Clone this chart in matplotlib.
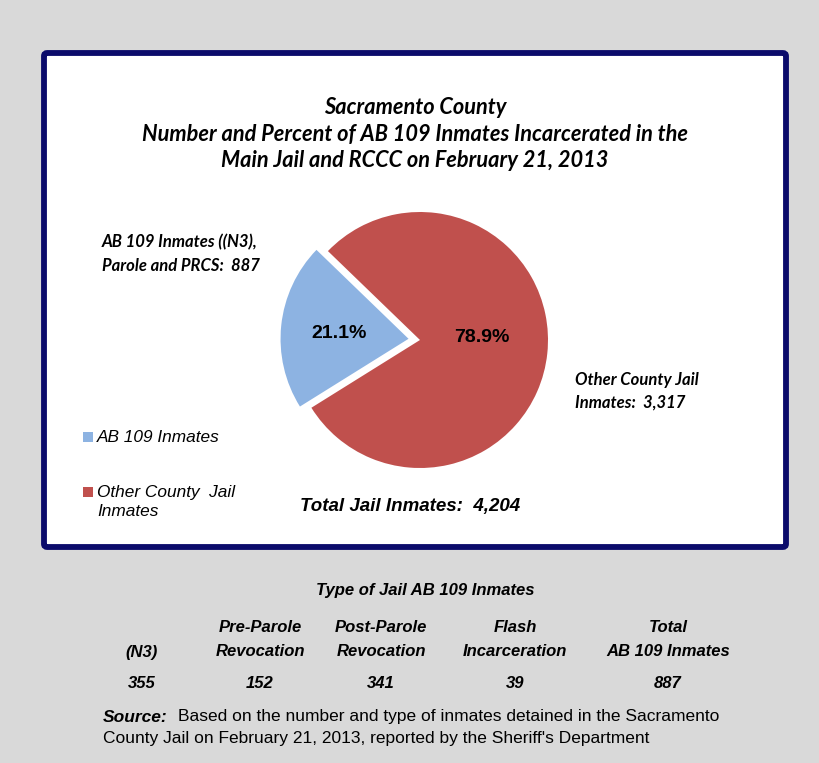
import matplotlib
matplotlib.use("Agg")
import matplotlib.pyplot as plt
from matplotlib.patches import FancyBboxPatch, Rectangle

W, H = 820, 763

# ---- data ----
slice_labels = ["AB 109 Inmates", "Other County  Jail", "Inmates"]
slice_values = [887, 3317]
slice_colors = ["#8db3e2", "#c0504d"]
table_headers = [["", "(N3)"], ["Pre-Parole", "Revocation"], ["Post-Parole", "Revocation"],
                 ["Flash", "Incarceration"], ["Total", "AB 109 Inmates"]]
table_values = [355, 152, 341, 39, 887]

CAL = "Lato"
ARIAL = "Liberation Sans"
NARROW = "Liberation Sans"

fig = plt.figure(figsize=(W / 100, H / 100), dpi=100)
fig.patch.set_facecolor("#d9d9d9")

def fx(x):
    return x / W

def fy(y):
    return 1 - y / H

def txt(x, y, s, **kw):
    fig.text(fx(x), fy(y), s, **kw)

# white framed box
box = FancyBboxPatch((fx(44), fy(547)), fx(786) - fx(44), fy(53) - fy(547),
                     boxstyle="round,pad=0,rounding_size=0.004",
                     transform=fig.transFigure, facecolor="white",
                     edgecolor="#0b0b6b", linewidth=4.2, zorder=-5)
fig.patches.append(box)

# pie axes: center (420,340), radius 128 px
R = 128
half = 170
ax = fig.add_axes([fx(420 - half), fy(340 + half), 2 * half / W, 2 * half / H], zorder=2)
ax.patch.set_alpha(0)
total = sum(slice_values)
wedges, texts, autotexts = ax.pie(slice_values, colors=slice_colors, startangle=136,
                                  counterclock=True, explode=[0.09, 0],
                                  autopct=lambda p: f"{p:.1f}%",
                                  radius=1.0, center=(0, 0), frame=False,
                                  wedgeprops=dict(linewidth=0),
                                  textprops=dict(fontsize=14, fontweight="bold",
                                                 family=ARIAL, color="black"))
ax.set_xlim(-half / R, half / R)
ax.set_ylim(-half / R, half / R)
ax.set_aspect("equal")
ax.axis("off")
for at, pos in zip(autotexts, [(-0.63, 0.05), (0.48, 0.02)]):
    at.set_position(pos)

# title
for i, line in enumerate(["Sacramento County",
                          "Number and Percent of AB 109 Inmates Incarcerated in the",
                          "Main Jail and RCCC on February 21, 2013"]):
    txt(415, 107.5 + i * 26.5, line, ha="center", va="center", family=CAL,
        fontsize=15.7, fontweight="bold", fontstyle="italic")

# data labels
lab_kw = dict(ha="left", va="center", family=CAL, fontsize=12, fontweight="bold",
              fontstyle="italic")
txt(102, 242, "AB 109 Inmates ((N3),", **lab_kw)
txt(102, 266, "Parole and PRCS:  887", **lab_kw)
txt(575, 380, "Other County Jail", **lab_kw)
txt(575, 403, "Inmates:  3,317", **lab_kw)

# legend
leg_kw = dict(ha="left", va="center", family=ARIAL, fontsize=12.4, fontstyle="italic")
fig.patches.append(Rectangle((fx(83), fy(442)), 10 / W, 10 / H,
                             transform=fig.transFigure, facecolor=slice_colors[0],
                             edgecolor="none"))
txt(97, 438, slice_labels[0], **leg_kw)
fig.patches.append(Rectangle((fx(83), fy(497)), 10 / W, 10 / H,
                             transform=fig.transFigure, facecolor=slice_colors[1],
                             edgecolor="none"))
txt(97, 492, slice_labels[1], **leg_kw)
txt(97, 511, slice_labels[2], **leg_kw)

txt(410, 507, f"Total Jail Inmates:  {total:,}", ha="center", va="center", family=ARIAL,
    fontsize=13.5, fontweight="bold", fontstyle="italic")

# table
tab_kw = dict(ha="center", va="center", family=NARROW, fontsize=12,
              fontweight="bold", fontstyle="italic")
txt(425, 590, "Type of Jail AB 109 Inmates", **tab_kw)
col_x = [142, 260, 381, 515, 668]
for x, h, v in zip(col_x, table_headers, table_values):
    txt(x, 628, h[0], **tab_kw)
    txt(x, 652, h[1], **tab_kw)
    txt(x, 684, f"{v}", **tab_kw)

# source
txt(103, 717, "Source:", ha="left", va="center", family=ARIAL, fontsize=12.5,
    fontweight="bold", fontstyle="italic")
txt(178, 717, "Based on the number and type of inmates detained in the Sacramento",
    ha="left", va="center", family=ARIAL, fontsize=12.5)
txt(103, 739, "County Jail on February 21, 2013, reported by the Sheriff's Department",
    ha="left", va="center", family=ARIAL, fontsize=12.5)

fig.savefig("out.png", dpi=100, facecolor=fig.get_facecolor())
